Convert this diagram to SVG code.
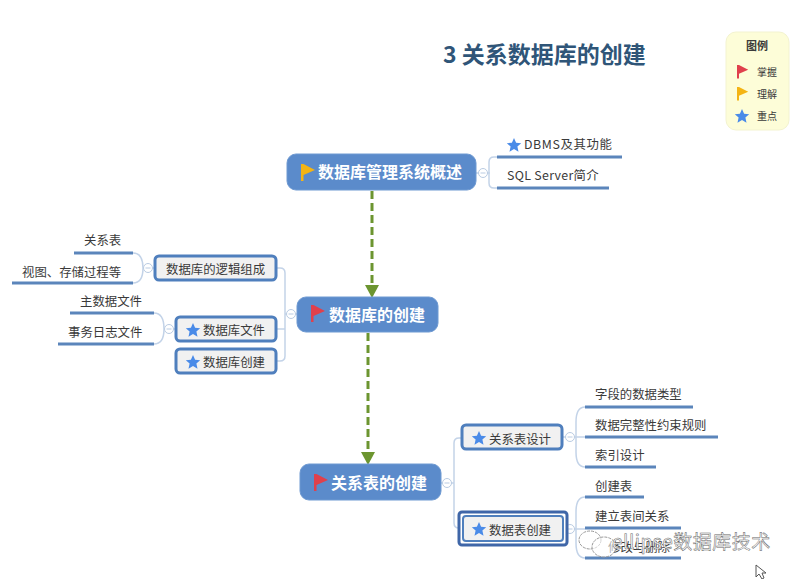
<svg xmlns="http://www.w3.org/2000/svg" width="796" height="579" viewBox="0 0 796 579">
<style>
text{font-family:"Noto Sans CJK SC","Liberation Sans",sans-serif;fill:#3a3a3a;font-size:12.4px}
.main rect{fill:#5b8bcb;stroke:#6f9ad2;stroke-width:1}
.main text{fill:#fff;font-size:16px;font-weight:700}
.sub rect{fill:#f1f1f1;stroke:#4f7fbd;stroke-width:3}
.ul{stroke:#5b85bb;stroke-width:3;fill:none}
.br{stroke:#c3d3e8;stroke-width:1.5;fill:none}
.knob{fill:#fff;stroke:#b9cbe2;stroke-width:1}
.minus{stroke:#b9cbe2;stroke-width:1;fill:none}
.dash{stroke:#6c9530;stroke-width:3;stroke-dasharray:8 4;fill:none}
.head{fill:#6c9530}
.red{fill:#e0404c}.yel{fill:#f4b414}.star{fill:#4a8be8}
</style>
<defs>
<path id="flag" d="M0 0L2.500 0L14 6L2.500 11L2.500 17L0 17Z"/>
<path id="star" d="M0 -7L2.100 -2.300L7.200 -1.800L3.400 1.600L4.500 6.700L0 4L-4.500 6.700L-3.400 1.600L-7.200 -1.800L-2.100 -2.300Z"/>
</defs>
<g id="connectors">
<path class="dash" d="M372 191V286"/><path class="head" d="M365 285H379L372 298Z"/>
<path class="dash" d="M368 333V453"/><path class="head" d="M361 452H375L368 465Z"/>
<path class="br" d="M476 173H490"/>
<path class="br" d="M497 157H494Q489 157 489 162V183Q489 188 494 188H497"/>
<path class="br" d="M297 314H285"/>
<path class="br" d="M277 268H280Q285 268 285 273V356Q285 361 280 361H277M277 329H285"/>
<path class="br" d="M155 268H143"/>
<path class="br" d="M133 253Q143 253 143 268Q143 283 133 283"/>
<path class="br" d="M175 329H164"/>
<path class="br" d="M154 313Q164 313 164 329Q164 344 154 344"/>
<path class="br" d="M441 483H454"/>
<path class="br" d="M461 438H459Q454 438 454 443V523Q454 528 459 528H461"/>
<path class="br" d="M563 437H585"/>
<path class="br" d="M585 407Q576 407 576 422V452Q576 467 585 467"/>
<path class="br" d="M568 529H585"/>
<path class="br" d="M585 497Q576 497 576 512V543Q576 558 585 558"/>
<path class="ul" d="M497 157H622M497 188H609M74 253H133M12 283H133M70 313H154M58 344H154M585 407H693M585 437H718M585 467H656M585 497H644M585 528H681M585 558H681"/>
<circle class="knob" cx="483" cy="173" r="4.500"/><path class="minus" d="M480.500 173H485.500"/>
<circle class="knob" cx="291" cy="314" r="4.500"/><path class="minus" d="M288.500 314H293.500"/>
<circle class="knob" cx="148" cy="268" r="4.500"/><path class="minus" d="M145.500 268H150.500"/>
<circle class="knob" cx="169" cy="329" r="4.500"/><path class="minus" d="M166.500 329H171.500"/>
<circle class="knob" cx="447" cy="483" r="4.500"/><path class="minus" d="M444.500 483H449.500"/>
<circle class="knob" cx="570" cy="437" r="4.500"/><path class="minus" d="M567.500 437H572.500"/>
<circle class="knob" cx="570" cy="529" r="4.500"/><path class="minus" d="M567.500 529H572.500"/>
</g>
<text id="title" x="443" y="63" style="font-size:23px;font-weight:700;fill:#2f5578">3 关系数据库的创建</text>
<g id="legend">
<rect x="726" y="32" width="63" height="98" rx="10" fill="#fdfdd8" stroke="#f3f3d0"/>
<text x="757" y="50" text-anchor="middle" style="font-size:11px;font-weight:700">图例</text>
<use href="#flag" class="red" transform="translate(737,65) scale(.8)"/>
<text x="757" y="76" style="font-size:10px">掌握</text>
<use href="#flag" class="yel" transform="translate(737,87) scale(.8)"/>
<text x="757" y="98" style="font-size:10px">理解</text>
<use href="#star" class="star" transform="translate(742,116)"/>
<text x="757" y="120" style="font-size:10px">重点</text>
</g>
<g id="n1" class="main"><rect x="287" y="154" width="189" height="36" rx="9"/><use href="#flag" class="yel" transform="translate(301,164)"/><text x="318" y="178">数据库管理系统概述</text></g>
<g id="n2" class="main"><rect x="297" y="297" width="141" height="35" rx="9"/><use href="#flag" class="red" transform="translate(311,305)"/><text x="329" y="321">数据库的创建</text></g>
<g id="n3" class="main"><rect x="300" y="464" width="141" height="36" rx="9"/><use href="#flag" class="red" transform="translate(314,474)"/><text x="331" y="489">关系表的创建</text></g>
<g id="n4" class="sub"><rect x="155" y="256" width="121" height="24" rx="4"/><text x="166" y="274">数据库的逻辑组成</text></g>
<g id="n5" class="sub"><rect x="176" y="317" width="100" height="24" rx="4"/><use href="#star" class="star" transform="translate(193,330)"/><text x="203" y="335">数据库文件</text></g>
<g id="n6" class="sub"><rect x="176" y="349" width="100" height="24" rx="4"/><use href="#star" class="star" transform="translate(193,362)"/><text x="203" y="367">数据库创建</text></g>
<g id="n7" class="sub"><rect x="462" y="425" width="100" height="24" rx="4"/><use href="#star" class="star" transform="translate(479,438)"/><text x="489" y="444">关系表设计</text></g>
<g id="n8" class="sub"><rect x="459" y="512" width="108" height="33" rx="3" style="fill:#fff;stroke:#3f66a8"/><rect x="463" y="516" width="100" height="25" rx="3" style="stroke-width:2"/><use href="#star" class="star" transform="translate(479,529)"/><text x="489" y="535">数据表创建</text></g>
<g id="t1"><use href="#star" class="star" transform="translate(514,145)"/><text x="524" y="149" letter-spacing=".6">DBMS及其功能</text></g>
<g id="t2"><text x="507" y="180" letter-spacing=".3">SQL Server简介</text></g>
<g id="t3"><text x="84" y="245">关系表</text></g>
<g id="t4"><text x="22" y="277">视图、存储过程等</text></g>
<g id="t5"><text x="80" y="306">主数据文件</text></g>
<g id="t6"><text x="68" y="337">事务日志文件</text></g>
<g id="t7"><text x="595" y="399">字段的数据类型</text></g>
<g id="t8"><text x="595" y="430">数据完整性约束规则</text></g>
<g id="t9"><text x="595" y="460">索引设计</text></g>
<g id="t10"><text x="595" y="491">创建表</text></g>
<g id="t11"><text x="595" y="521">建立表间关系</text></g>
<g id="t12"><text x="608" y="552">修改与删除</text></g>
<g id="watermark">
<ellipse cx="590" cy="540" rx="11" ry="9" fill="none" stroke="#999" stroke-dasharray="3 1"/>
<ellipse cx="604" cy="547" rx="12" ry="10" fill="#fff" fill-opacity=".6" stroke="#999" stroke-dasharray="3 1"/>
<text x="612" y="549" style="font-size:19px;letter-spacing:.5px;fill:#fff;stroke:#666;stroke-width:.5">ellipse数据库技术</text>
</g>
<path id="cursor" d="M756 565L756 577L759 574L762 579L764 578L762 573L766 573Z" fill="#fff" stroke="#555"/>
</svg>
